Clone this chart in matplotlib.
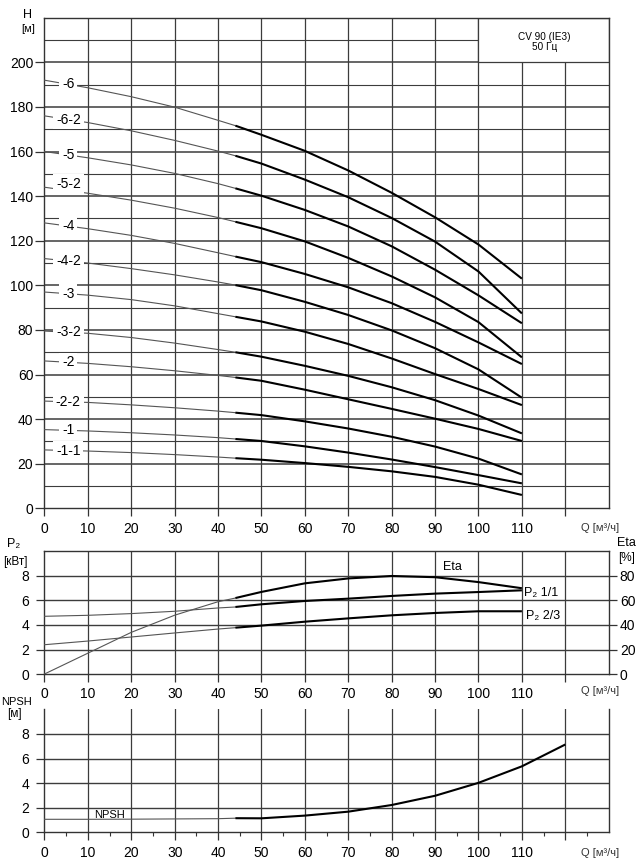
import numpy as np
import matplotlib.pyplot as plt
from matplotlib.patches import Rectangle

plt.rcParams['font.family'] = ['Liberation Sans', 'DejaVu Sans']

# flow points (m3/h); the thick part of every curve starts at 44
Q = [0, 10, 20, 30, 40, 44, 50, 60, 70, 80, 90, 100, 110]

# head curves H [m], one per pump variant
H_6 = [192, 188.6, 184.6, 179.9, 174.0, 171.6, 167.5, 160.3, 151.5, 141.5, 130.5, 118.3, 103.0]
H_6_2 = [176, 173.0, 169.3, 165.0, 160.2, 158.1, 154.6, 147.4, 139.5, 130.2, 119.6, 106.2, 87.4]
H_5 = [160, 157.2, 154.0, 150.2, 145.6, 143.5, 140.2, 133.8, 126.4, 117.5, 107.0, 95.5, 83.0]
H_5_2 = [144, 141.3, 138.2, 134.6, 130.4, 128.5, 125.6, 119.7, 112.3, 104.0, 94.6, 83.5, 67.7]
H_4 = [128, 125.4, 122.4, 118.8, 114.6, 112.9, 110.4, 105.1, 99.1, 92.0, 83.6, 74.4, 64.7]
H_4_2 = [112, 110.0, 107.5, 104.7, 101.5, 100.1, 97.8, 92.6, 86.7, 79.8, 71.8, 62.3, 49.6]
H_3 = [97, 95.6, 93.6, 90.8, 87.3, 85.9, 83.8, 79.2, 73.7, 67.2, 60.2, 53.5, 46.3]
H_3_2 = [79.5, 78.5, 76.6, 74.1, 71.2, 70.0, 68.0, 63.9, 59.4, 54.3, 48.5, 41.6, 33.6]
H_2 = [66.1, 65.0, 63.5, 61.7, 59.6, 58.7, 57.2, 53.2, 48.9, 44.6, 40.2, 35.6, 30.2]
H_2_2 = [48.1, 47.5, 46.4, 45.1, 43.6, 42.9, 41.8, 39.0, 35.8, 32.1, 27.7, 22.3, 15.2]
H_1 = [35.3, 34.7, 33.9, 32.9, 31.7, 31.1, 30.2, 27.8, 25.0, 21.9, 18.5, 14.9, 11.2]
H_1_1 = [26.2, 25.7, 25.0, 24.1, 23.0, 22.5, 21.8, 20.3, 18.6, 16.6, 14.1, 10.6, 6.0]

models = ['-6', '-6-2', '-5', '-5-2', '-4', '-4-2', '-3', '-3-2', '-2', '-2-2', '-1', '-1-1']
heads = [H_6, H_6_2, H_5, H_5_2, H_4, H_4_2, H_3, H_3_2, H_2, H_2_2, H_1, H_1_1]

# power [kW] and efficiency [%]
P2_full = [4.71, 4.79, 4.93, 5.12, 5.39, 5.47, 5.69, 5.96, 6.15, 6.37, 6.56, 6.69, 6.83]
P2_23 = [2.39, 2.69, 3.02, 3.35, 3.67, 3.78, 3.95, 4.27, 4.54, 4.79, 4.98, 5.12, 5.12]
eta = [0, 17, 34, 48, 59, 62, 67, 74, 78, 80, 79, 75, 70]

# NPSH [m]
Q_npsh = [0, 10, 20, 30, 40, 44, 50, 60, 70, 80, 90, 100, 110, 120]
npsh = [1.07, 1.07, 1.08, 1.10, 1.12, 1.16, 1.15, 1.37, 1.69, 2.23, 2.98, 4.03, 5.37, 7.14]

title_text = 'CV 90 (IE3)\n50 Гц'
q_label = 'Q [м³/ч]'

THIN = dict(color='#555555', lw=0.8, zorder=3)
THICK = dict(color='black', lw=1.5, zorder=3, solid_capstyle='butt')
GRID_C = '#3c3c3c'
split = Q.index(44)
FW, FH = 640.0, 866.0


def px_text(x, y, s, size, ha='center'):
    # axis titles placed in figure pixels (top-left origin)
    fig.text(x / FW, 1 - y / FH, s, ha=ha, va='center', fontsize=size)


def draw_curve(ax, x, y):
    ax.plot(x[:split + 1], y[:split + 1], **THIN)
    ax.plot(x[split:], y[split:], **THICK)


def style_axis(ax, ymax, yticks, ylab_pad):
    ax.set_xlim(0, 130)
    ax.set_ylim(0, ymax)
    ax.set_xticks(range(0, 121, 10))
    ax.set_xticklabels([str(v) for v in range(0, 111, 10)] + [''])
    ax.set_yticks(yticks)
    ax.tick_params(axis='both', direction='out', length=6, width=0.9,
                   color='#333333', labelsize=10)
    ax.tick_params(axis='y', pad=ylab_pad)
    for s in ax.spines.values():
        s.set_linewidth(1.0)
        s.set_color('#333333')
    for xv in range(10, 130, 10):
        ax.axvline(xv, color=GRID_C, lw=0.9, zorder=1)


fig = plt.figure(figsize=(6.4, 8.66), dpi=100)
L, W = 0.0695, 0.8816

# --- head panel ---
ax1 = fig.add_axes([L, 0.4130, W, 0.5665])
style_axis(ax1, 220, range(0, 201, 20), 1.5)
ax1.tick_params(axis='y', length=6.5)
for hv in range(10, 220, 10):
    major = hv % 20 == 0
    ax1.axhline(hv, color=GRID_C, lw=1.1 if major else 0.8, zorder=1)
ax1.add_patch(Rectangle((100, 200), 30, 20, facecolor='white', edgecolor=GRID_C,
                        lw=0.9, zorder=2))
ax1.text(115.2, 209, title_text, ha='center', va='center', fontsize=7.2,
         linespacing=1.0, zorder=4)

for name, h in zip(models, heads):
    draw_curve(ax1, Q, h)
    y_lab = np.interp(5.5, Q, h) + (3 if name == '-5-2' else 0)
    ax1.text(5.5, y_lab, name, ha='center', va='center', fontsize=10, zorder=5,
             bbox=dict(boxstyle='square,pad=0.2', fc='white', ec='none'))

px_text(28, 15, 'H', 9)
px_text(28, 29, '[м]', 8)
ax1.annotate(q_label, xy=(128, 0), xycoords='data', xytext=(0, -14),
             textcoords='offset points', ha='center', va='center', fontsize=8,
             color='#333333', annotation_clip=False)

# --- power / efficiency panel ---
ax2 = fig.add_axes([L, 0.2217, W, 0.1415])
style_axis(ax2, 10, range(0, 9, 2), 5)
for hv in range(2, 10, 2):
    ax2.axhline(hv, color=GRID_C, lw=1.0, zorder=1)
draw_curve(ax2, Q, P2_full)
draw_curve(ax2, Q, P2_23)
ax2r = ax2.twinx()
ax2r.set_ylim(0, 100)
ax2r.set_yticks(range(0, 81, 20))
ax2r.tick_params(axis='y', direction='out', length=6, width=0.9, color='#333333',
                 labelsize=10, pad=2)
for s in ax2r.spines.values():
    s.set_visible(False)
draw_curve(ax2r, Q, eta)
ax2.text(94, 8.7, 'Eta', ha='center', va='center', fontsize=9)
ax2.text(110.5, 6.6, 'P₂ 1/1', ha='left', va='center', fontsize=9)
ax2.text(111, 4.7, 'P₂ 2/3', ha='left', va='center', fontsize=9)
px_text(14, 544, 'P₂', 9)
px_text(15, 562, '[кВт]', 8.5)
px_text(626, 543, 'Eta', 9)
px_text(627, 558, '[%]', 8.5)
ax2.annotate(q_label, xy=(128, 0), xycoords='data', xytext=(0, -12),
             textcoords='offset points', ha='center', va='center', fontsize=8,
             color='#333333', annotation_clip=False)

# --- NPSH panel ---
ax3 = fig.add_axes([L, 0.0387, W, 0.1423])
style_axis(ax3, 10, range(0, 9, 2), 5)
ax3.set_xticks(range(5, 130, 10), minor=True)
ax3.tick_params(axis='x', which='minor', length=3, width=0.8, color='#333333')
ax3.spines['top'].set_visible(False)
for hv in range(2, 10, 2):
    ax3.axhline(hv, color=GRID_C, lw=1.0, zorder=1)
ax3.plot(Q_npsh[:split + 1], npsh[:split + 1], **THIN)
ax3.plot(Q_npsh[split:], npsh[split:], **THICK)
ax3.text(11.5, 1.45, 'NPSH', ha='left', va='center', fontsize=8)
px_text(1, 702, 'NPSH', 8, ha='left')
px_text(14, 714, '[м]', 8.5)
ax3.annotate(q_label, xy=(128, 0), xycoords='data', xytext=(0, -15),
             textcoords='offset points', ha='center', va='center', fontsize=8,
             color='#333333', annotation_clip=False)

plt.savefig('out.png', dpi=100)
